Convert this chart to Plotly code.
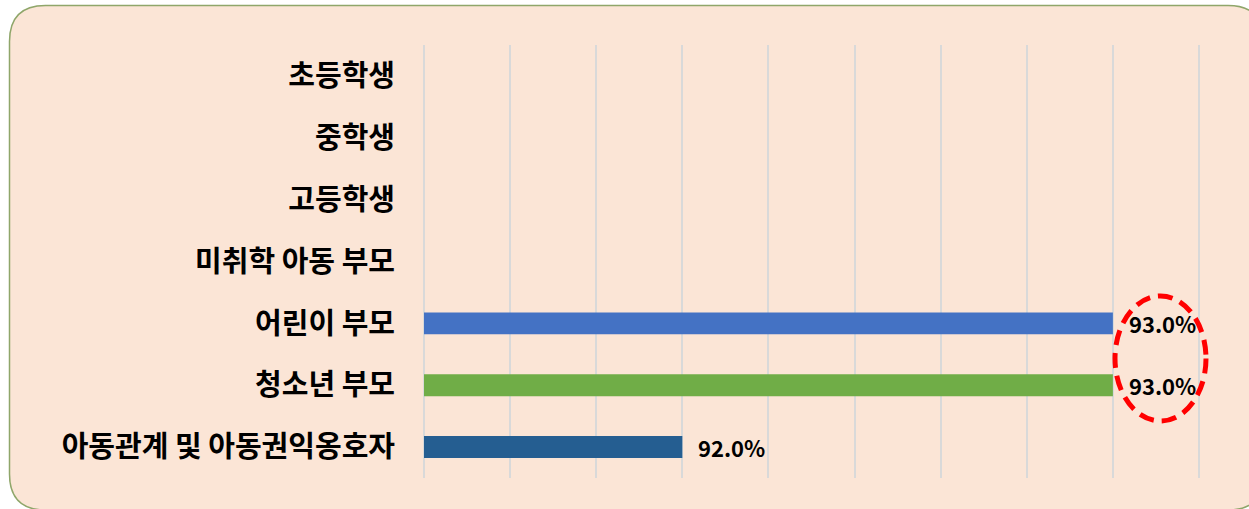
import plotly.graph_objects as go

categories = ["초등학생", "중학생", "고등학생", "미취학 아동 부모", "어린이 부모", "청소년 부모", "아동관계 및 아동권익옹호자"]
values = [None, None, None, None, 93.0, 93.0, 92.0]
bar_colors = ["#4472C4", "#4472C4", "#4472C4", "#4472C4", "#4472C4", "#70AD47", "#255E91"]
grid_vals = [91.4, 91.6, 91.8, 92.0, 92.2, 92.4, 92.6, 92.8, 93.0, 93.2]

FONT = "Noto Sans CJK KR"
FW, FH = 1249, 509
axis_min = grid_vals[0]

fig = go.Figure()
fig.add_trace(go.Bar(
    x=[None if v is None else v - axis_min for v in values], base=axis_min,
    y=categories, orientation="h",
    marker=dict(color=bar_colors, line=dict(width=0)),
    hoverinfo="skip",
))

for c, v in zip(categories, values):
    if v is not None:
        fig.add_annotation(x=v, y=c, text=f"<b>{v:.1f}%</b>", showarrow=False,
                           xanchor="left", xshift=14,
                           font=dict(family=FONT, size=22, color="black"))

# plot area geometry (screen px), padded by 2px so edge gridlines are drawn
PAD = 2
L, T, W, H = 424 - PAD, 45, 775 + 2 * PAD, 433
step = 0.2 / 86.1
xr = [grid_vals[0] - PAD * step, grid_vals[-1] + PAD * step]

def px(x):
    return (x - L) / W
def py(y):
    return (T + H - y) / H

r = 36
x0, x1, y0, y1 = 9.5, 1264, 5.5, 510
path = (f"M {px(x0+r)},{py(y0)} L {px(x1-r)},{py(y0)} Q {px(x1)},{py(y0)} {px(x1)},{py(y0+r)} "
        f"L {px(x1)},{py(y1-r)} Q {px(x1)},{py(y1)} {px(x1-r)},{py(y1)} "
        f"L {px(x0+r)},{py(y1)} Q {px(x0)},{py(y1)} {px(x0)},{py(y1-r)} "
        f"L {px(x0)},{py(y0+r)} Q {px(x0)},{py(y0)} {px(x0+r)},{py(y0)} Z")
fig.add_shape(type="path", path=path, xref="paper", yref="paper", layer="below",
              fillcolor="#FBE5D6", line=dict(color="#8FA66A", width=1.5))

# red dashed ellipse highlight
fig.add_shape(type="circle", xref="paper", yref="paper",
              x0=px(1115), x1=px(1206), y0=py(421), y1=py(296),
              line=dict(color="#FF0000", width=5, dash="15px,8px"), fillcolor="rgba(0,0,0,0)")

fig.update_layout(
    width=FW, height=FH,
    margin=dict(l=L, r=FW - L - W, t=T, b=FH - T - H),
    paper_bgcolor="white", plot_bgcolor="rgba(0,0,0,0)",
    showlegend=False, bargap=0.645,
    font=dict(family=FONT, color="black"),
)
fig.update_xaxes(range=xr, tickvals=grid_vals, showticklabels=False,
                 showgrid=True, gridcolor="#D9D9D9", gridwidth=2, zeroline=False,
                 showline=False, fixedrange=True)
fig.update_yaxes(categoryorder="array", categoryarray=categories, autorange="reversed",
                 showgrid=False, showline=False, ticks="", ticklabelstandoff=24 + PAD,
                 tickfont=dict(family=FONT, size=29, color="black", weight="bold"),
                 fixedrange=True)

fig.write_html("out.html", config={"displayModeBar": False, "staticPlot": True},
               post_script="document.body.style.margin='0';document.body.style.overflow='hidden';")
